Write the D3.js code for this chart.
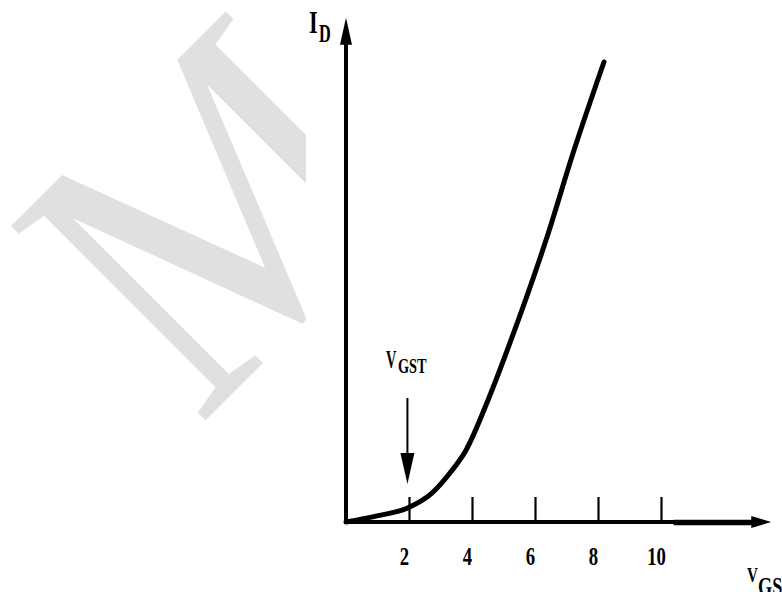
<!DOCTYPE html>
<html>
<head>
<meta charset="utf-8">
<script src="https://cdn.jsdelivr.net/npm/d3@7"></script>
<style>
  html, body { margin: 0; padding: 0; background: #fff; }
  svg { display: block; }
</style>
</head>
<body>
<svg id="chart" width="782" height="592"></svg>
<script>
// ---- data ----
const vgs = [0, 0.95, 1.94, 2.70, 3.33, 3.81, 4.51, 5.24, 6.35, 7.24, 8.19];
const idValues = [0, 0.12, 0.28, 0.57, 1.02, 1.46, 2.48, 3.70, 5.73, 7.56, 9.35];
const xTicks = [2, 4, 6, 8, 10];
const xTickLabels = ["2", "4", "6", "8", "10"];
const vgsThreshold = 1.95;
const xAxisMax = 13.5;
const yAxisMax = 10.25;

const W = 782, H = 592;
const svg = d3.select("#chart");
const font = "'Liberation Serif', 'Times New Roman', serif";

// watermark
svg.append("text")
  .attr("transform", "translate(198,428) rotate(-45) scale(0.87,1)")
  .attr("font-family", font)
  .attr("font-size", 420)
  .attr("fill", "#e0e0e0")
  .text("M");
// pasted figure background
svg.append("rect").attr("x", 306).attr("y", 0).attr("width", W - 306).attr("height", H).attr("fill", "#fff");

const x = d3.scaleLinear().domain([0, 10]).range([346, 661]);
const y = d3.scaleLinear().domain([0, 10]).range([522, 30]);

const g = svg.append("g");

// axes lines
g.append("line").attr("x1", x(0)).attr("x2", x(0)).attr("y1", y(0) + 2).attr("y2", y(yAxisMax) + 14)
  .attr("stroke", "#000").attr("stroke-width", 4);
g.append("line").attr("x1", x(0) - 2).attr("x2", x(xAxisMax) - 14).attr("y1", y(0)).attr("y2", y(0))
  .attr("stroke", "#000").attr("stroke-width", 4);
g.append("line").attr("x1", x(10.4)).attr("x2", x(xAxisMax) - 14).attr("y1", y(0) + 0.5).attr("y2", y(0) + 0.5)
  .attr("stroke", "#000").attr("stroke-width", 5.5);
// arrowheads
g.append("path")
  .attr("d", `M${x(0)},${y(yAxisMax)} L${x(0) - 6},${y(yAxisMax) + 27} L${x(0) + 6},${y(yAxisMax) + 27} Z`)
  .attr("fill", "#000");
g.append("path")
  .attr("d", `M${x(xAxisMax)},${y(0)} L${x(xAxisMax) - 20},${y(0) - 6} L${x(xAxisMax) - 20},${y(0) + 6} Z`)
  .attr("fill", "#000");

// ticks with d3 axis
const axis = d3.axisBottom(x).tickValues(xTicks).tickSize(-25).tickPadding(0)
  .tickFormat((d, i) => xTickLabels[i]);
const ax = g.append("g").attr("transform", `translate(0,${y(0)})`).call(axis);
ax.select(".domain").remove();
ax.selectAll(".tick line").attr("stroke", "#000").attr("stroke-width", 2.2);
ax.selectAll(".tick text")
  .attr("y", 43).attr("dy", null)
  .attr("transform", "translate(-5,0) scale(0.72,1)")
  .attr("font-family", font).attr("font-weight", "bold").attr("font-size", 26)
  .attr("fill", "#000");

// curve
const pts = vgs.map((v, i) => [v, idValues[i]]);
g.append("path").datum(pts)
  .attr("d", d3.line().x(d => x(d[0])).y(d => y(d[1])).curve(d3.curveMonotoneX))
  .attr("fill", "none").attr("stroke", "#000").attr("stroke-width", 5)
  .attr("stroke-linecap", "round").attr("stroke-linejoin", "round");

// VGST arrow
const ax0 = x(vgsThreshold);
g.append("line").attr("x1", ax0).attr("x2", ax0).attr("y1", 398).attr("y2", 460)
  .attr("stroke", "#000").attr("stroke-width", 2);
g.append("path")
  .attr("d", `M${ax0},${484} L${ax0 - 7},${453} L${ax0 + 7},${453} Z`)
  .attr("fill", "#000");

function label(px, py, str, size, sx) {
  return g.append("text")
    .attr("transform", `translate(${px},${py}) scale(${sx},1)`)
    .attr("font-family", font).attr("font-weight", "bold")
    .attr("font-size", size).attr("fill", "#000").text(str);
}
// I_D
label(309, 33, "I", 32, 0.7);
label(319, 42, "D", 25, 0.65);
// V_GST
label(386, 368, "V", 26, 0.55);
label(398, 373, "GST", 22, 0.65);
// V_GS
label(747, 582, "V", 21, 0.72);
label(758, 595, "GS", 26, 0.7);
</script>
</body>
</html>
